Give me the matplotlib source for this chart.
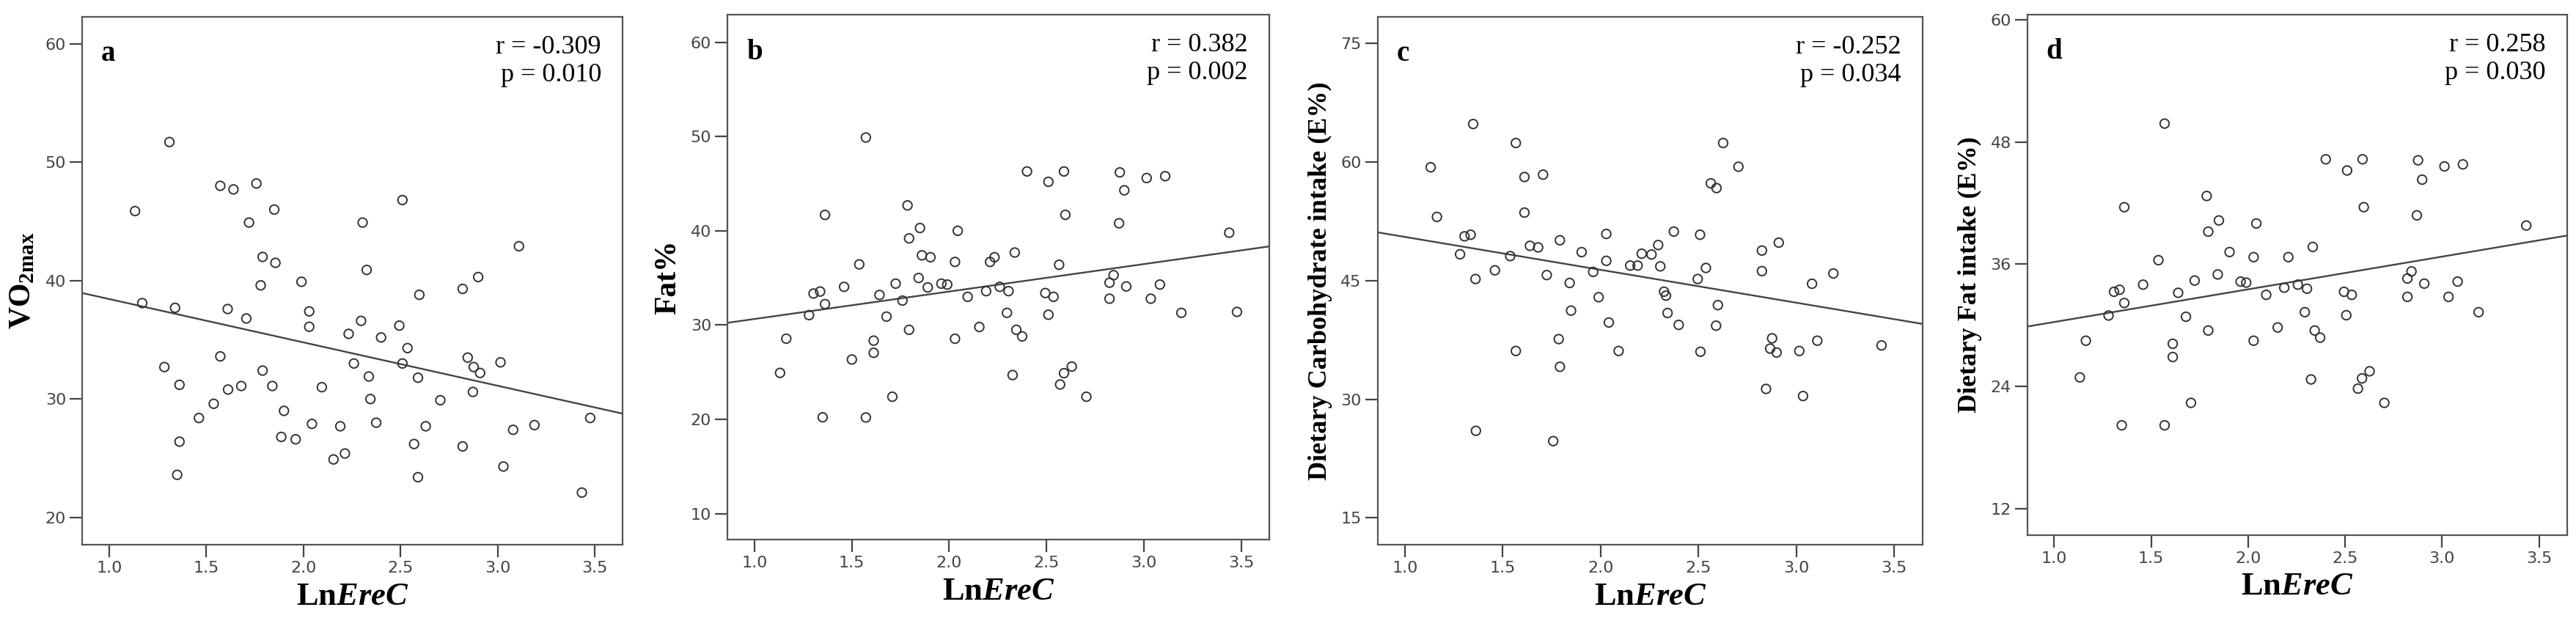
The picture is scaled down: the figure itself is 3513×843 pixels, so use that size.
import numpy as np
import matplotlib
matplotlib.use("Agg")
import matplotlib as mpl
import matplotlib.pyplot as plt

mpl.rcParams["mathtext.fontset"] = "custom"
mpl.rcParams["mathtext.rm"] = "Liberation Serif"
mpl.rcParams["mathtext.bf"] = "Liberation Serif:bold"
mpl.rcParams["mathtext.it"] = "Liberation Serif:italic"
mpl.rcParams["mathtext.bfit"] = "Liberation Serif:italic:bold"

# Panel a: VO2max
xa = [1.133,1.17,1.31,1.284,1.339,1.362,1.362,1.35,1.462,1.538,1.572,1.572,1.61,1.612,1.64,1.68,1.706,1.72,1.758,1.78,1.79,1.79,1.84,1.85,1.856,1.90,1.886,1.96,1.99,2.03,2.03,2.044,2.095,2.155,2.19,2.214,2.233,2.26,2.297,2.305,2.326,2.337,2.345,2.375,2.4,2.494,2.51,2.51,2.536,2.57,2.59,2.59,2.597,2.63,2.705,2.82,2.82,2.846,2.877,2.873,2.9,2.91,3.015,3.03,3.08,3.11,3.19,3.434,3.477]
ya = [45.87,38.1,51.7,32.7,37.7,31.2,26.4,23.6,28.4,29.6,48.0,33.6,37.6,30.8,47.7,31.1,36.8,44.9,48.2,39.6,42.0,32.4,31.1,46.0,41.5,29.0,26.8,26.6,39.9,37.4,36.1,27.9,31.0,24.9,27.7,25.4,35.5,33.0,36.6,44.9,40.9,31.9,30.0,28.0,35.2,36.2,46.8,33.0,34.3,26.2,31.8,23.4,38.8,27.7,29.9,26.0,39.3,33.5,32.7,30.6,40.3,32.2,33.1,24.3,27.4,42.9,27.8,22.1,28.4]

# Panel b: Fat%
xb = [1.131,1.163,1.28,1.303,1.337,1.362,1.362,1.35,1.46,1.5,1.538,1.572,1.572,1.612,1.612,1.642,1.678,1.708,1.725,1.76,1.786,1.794,1.794,1.843,1.85,1.86,1.89,1.904,1.96,1.99,2.03,2.03,2.044,2.095,2.155,2.19,2.21,2.233,2.26,2.297,2.305,2.326,2.337,2.345,2.375,2.4,2.494,2.51,2.51,2.536,2.57,2.59,2.59,2.597,2.565,2.63,2.705,2.824,2.824,2.845,2.877,2.873,2.9,2.91,3.015,3.036,3.083,3.11,3.193,3.439,3.479]
yb = [24.93,28.56,31.06,33.35,33.56,32.23,41.69,20.22,34.06,26.35,36.44,49.9,20.2,28.35,27.06,33.2,30.9,22.4,34.4,32.6,42.7,39.2,29.5,35.0,40.3,37.4,34.0,37.2,34.4,34.3,36.7,28.55,40.0,33.0,29.8,33.6,36.7,37.2,34.06,31.3,33.6,24.7,37.7,29.5,28.8,46.3,33.4,45.2,31.1,33.0,23.7,24.9,46.3,41.7,36.4,25.6,22.4,34.5,32.8,35.3,46.2,40.8,44.3,34.1,45.6,32.8,34.3,45.8,31.3,39.8,31.4]

# Panel c: Dietary carbohydrate intake (E%)
xc = [1.132,1.164,1.282,1.305,1.336,1.349,1.361,1.363,1.46,1.538,1.567,1.567,1.611,1.611,1.639,1.681,1.706,1.725,1.758,1.786,1.792,1.792,1.842,1.849,1.903,1.962,1.99,2.029,2.029,2.042,2.092,2.151,2.189,2.21,2.26,2.294,2.305,2.324,2.334,2.342,2.374,2.399,2.496,2.508,2.51,2.538,2.563,2.592,2.59,2.599,2.626,2.704,2.824,2.824,2.845,2.876,2.866,2.899,2.91,3.015,3.034,3.08,3.107,3.189,3.435]
yc = [59.33,53.06,48.33,50.6,50.8,64.8,45.2,26.0,46.3,48.1,62.4,36.1,58.1,53.6,49.4,49.2,58.4,45.7,24.7,37.6,50.1,34.1,44.7,41.2,48.6,46.1,42.9,50.9,47.5,39.7,36.1,46.9,46.9,48.4,48.3,49.5,46.8,43.6,43.1,40.9,51.2,39.4,45.2,50.8,36.0,46.6,57.3,56.7,39.3,41.9,62.4,59.4,48.8,46.2,31.3,37.7,36.4,35.9,49.8,36.1,30.4,44.6,37.4,45.9,36.8]

# Panel d: Dietary fat intake (E%)
xd = [1.132,1.163,1.28,1.308,1.337,1.361,1.361,1.348,1.458,1.537,1.569,1.569,1.611,1.611,1.639,1.679,1.705,1.724,1.786,1.794,1.794,1.843,1.849,1.904,1.961,1.99,2.028,2.028,2.042,2.093,2.152,2.186,2.207,2.256,2.292,2.303,2.324,2.333,2.343,2.371,2.4,2.494,2.51,2.506,2.534,2.566,2.587,2.59,2.596,2.626,2.702,2.821,2.821,2.842,2.876,2.87,2.897,2.908,3.012,3.033,3.08,3.107,3.188,3.434]
yd = [24.9,28.5,30.97,33.3,33.5,32.2,41.6,20.2,34.0,36.4,49.8,20.2,28.2,26.9,33.2,30.85,22.4,34.4,42.7,39.2,29.5,35.0,40.3,37.2,34.3,34.2,36.7,28.5,40.0,33.0,29.8,33.7,36.7,34.0,31.3,33.6,24.7,37.7,29.5,28.8,46.3,33.3,45.2,31.0,33.0,23.8,24.8,46.3,41.6,25.5,22.4,34.6,32.8,35.3,46.2,40.8,44.3,34.1,45.6,32.8,34.3,45.8,31.3,39.8]

xticks = [1.0, 1.5, 2.0, 2.5, 3.0, 3.5]
panels = [
    dict(x=xa, y=ya, letter="a", r="r = -0.309", p="p = 0.010", ylabel=r"$\mathbf{VO}_{\mathbf{2max}}$",
         yticks=[20, 30, 40, 50, 60], ylim=(17.7, 62.3), box=(112.4, 849.4, 22.5, 743)),
    dict(x=xb, y=yb, letter="b", r="r = 0.382", p="p = 0.002", ylabel="Fat%",
         yticks=[10, 20, 30, 40, 50, 60], ylim=(7.25, 62.9), box=(992.4, 1731, 20.4, 736)),
    dict(x=xc, y=yc, letter="c", r="r = -0.252", p="p = 0.034", ylabel="Dietary Carbohydrate intake (E%)",
         yticks=[15, 30, 45, 60, 75], ylim=(11.6, 78.4), box=(1879, 2622, 22.5, 743)),
    dict(x=xd, y=yd, letter="d", r="r = 0.258", p="p = 0.030", ylabel="Dietary Fat intake (E%)",
         yticks=[12, 24, 36, 48, 60], ylim=(9.45, 60.46), box=(2765, 3501, 20.4, 729.6)),
]

W, H = 3513, 843
fig = plt.figure(figsize=(W / 100, H / 100), dpi=100)
serif = "Liberation Serif"
for pnl in panels:
    l, r, t, b = pnl["box"]
    ax = fig.add_axes([l / W, 1 - b / H, (r - l) / W, (b - t) / H])
    x = np.array(pnl["x"]); y = np.array(pnl["y"])
    ax.scatter(x, y, s=80, facecolors="none", edgecolors="#333333", linewidths=1.4, zorder=3)
    xmin, xmax = 0.862, 3.645
    m, c = np.polyfit(x, y, 1)
    xx = np.array([xmin, xmax])
    ax.plot(xx, m * xx + c, color="#444444", lw=1.7, zorder=2)
    ax.set_xlim(xmin, xmax)
    ax.set_ylim(*pnl["ylim"])
    ax.set_xticks(xticks)
    ax.set_xticklabels([f"{v:.1f}" for v in xticks])
    ax.set_yticks(pnl["yticks"])
    ax.tick_params(axis="both", length=12, width=1.6, color="#444444", pad=4,
                   labelsize=16, labelcolor="#444444")
    for s in ax.spines.values():
        s.set_color("#555555"); s.set_linewidth(1.6)
    ax.set_xlabel(r"$\mathbf{Ln}\mathbfit{EreC}$", fontsize=32, labelpad=4)
    ax.set_ylabel(pnl["ylabel"], fontfamily=serif, fontsize=26 if pnl["letter"] in "cd" else 30,
                  fontweight="bold", labelpad=8)
    ax.text(0.035, 0.955, pnl["letter"], transform=ax.transAxes, fontfamily=serif, fontsize=28,
            fontweight="bold", va="top", ha="left")
    ax.text(0.96, 0.965, pnl["r"] + "\n" + pnl["p"], transform=ax.transAxes, fontfamily=serif,
            fontsize=26, va="top", ha="right", linespacing=1.2)

fig.savefig("out.png", dpi=100)
